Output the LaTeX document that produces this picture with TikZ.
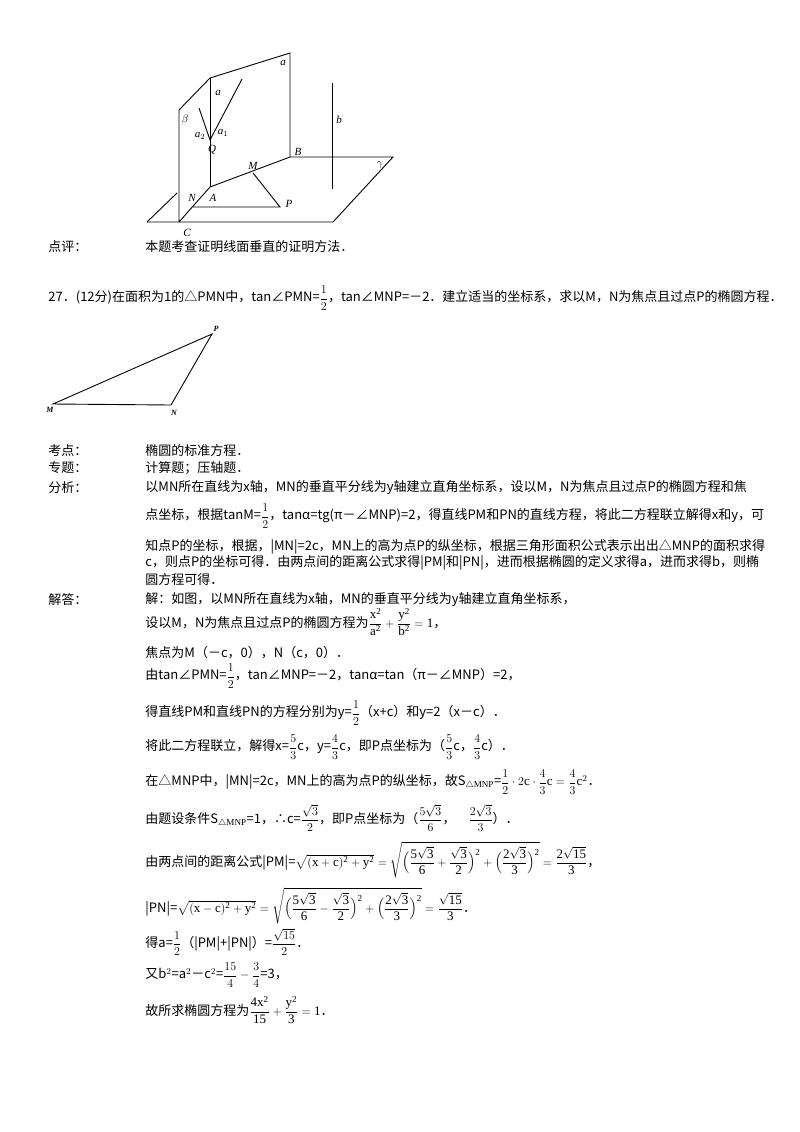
\documentclass[tikz,border=0pt]{standalone}
\usepackage{amsmath}
\usepackage{fontspec}
\setmainfont{Liberation Serif}
\newfontfamily\cjk{Noto Sans CJK SC}
\begin{document}
\begin{tikzpicture}[x=1pt,y=-1pt,line width=0.9pt,
  t/.style={anchor=west,inner sep=0pt,font=\cjk\fontsize{13}{15}\selectfont},
  lab/.style={inner sep=0pt,font=\itshape\fontsize{11}{12}\selectfont}]
\useasboundingbox (0,0) rectangle (800,1132);
% top figure
\coordinate (C) at (179,222); \coordinate (A) at (210,187); \coordinate (B) at (290,157);
\coordinate (N) at (193,207); \coordinate (M) at (253,173); \coordinate (P) at (280,207);
\coordinate (Q) at (210,140); \coordinate (T1) at (179,110); \coordinate (T2) at (210,78);
\coordinate (T3) at (290,53);
\draw (147,222) -- (333,222) -- (393,157) -- (B);
\draw (147,222) -- (177,193);
\draw (C) -- (T1) -- (T2) -- (T3) -- (B) -- (A) -- (C);
\draw (T2) -- (A);
\draw (N) -- (P) -- (M);
\draw (242,79) -- (Q); \draw (199,108) -- (Q);
\draw (332,83) -- (332,189);
\node[lab] at (283,63) {a}; \node[lab] at (218,93) {a}; \node[lab] at (185,120) {$\beta$};
\node[lab] at (200,136) {a$_2$}; \node[lab] at (223,133) {a$_1$}; \node[lab] at (212,150) {Q};
\node[lab] at (253,166) {M}; \node[lab] at (298,152) {B}; \node[lab] at (339,120) {b};
\node[lab] at (380,165) {$\gamma$}; \node[lab] at (192,198) {N}; \node[lab] at (213,198) {A};
\node[lab] at (289,204) {P}; \node[lab] at (187,233) {C};
% triangle
\coordinate (m) at (53,404); \coordinate (n) at (171,405); \coordinate (p) at (212,334);
\draw (m) -- (n) -- (p) -- cycle;
\node[lab,font=\itshape\bfseries\fontsize{8}{9}\selectfont] at (216,329) {P};
\node[lab,font=\itshape\bfseries\fontsize{8}{9}\selectfont] at (50,410) {M};
\node[lab,font=\itshape\bfseries\fontsize{8}{9}\selectfont] at (174,413) {N};
% texts
\node[t] (l0) at (48,247) {点评：};
\node[t] (l0b) at (145,247) {本题考查证明线面垂直的证明方法．};
\node[t] (q) at (48,298) {27．(12分)在面积为1的△PMN中，tan∠PMN=$\dfrac{1}{2}$，tan∠MNP=－2．建立适当的坐标系，求以M，N为焦点且过点P的椭圆方程．};
\node[t] (k1) at (48,451) {考点：}; \node[t] (k1b) at (145,451) {椭圆的标准方程．};
\node[t] (k2) at (48,468) {专题：}; \node[t] (k2b) at (145,468) {计算题；压轴题．};
\node[t] (k3) at (48,488) {分析：};
\node[t] (f1) at (145,488) {以MN所在直线为x轴，MN的垂直平分线为y轴建立直角坐标系，设以M，N为焦点且过点P的椭圆方程和焦};
\node[t] (f2) at (145,516) {点坐标，根据tanM=$\dfrac{1}{2}$，tanα=tg(π－∠MNP)=2，得直线PM和PN的直线方程，将此二方程联立解得x和y，可};
\node[t] (f3) at (145,547) {知点P的坐标，根据，|MN|=2c，MN上的高为点P的纵坐标，根据三角形面积公式表示出出△MNP的面积求得};
\node[t] (f4) at (145,563) {c，则点P的坐标可得．由两点间的距离公式求得|PM|和|PN|，进而根据椭圆的定义求得a，进而求得b，则椭};
\node[t] (f5) at (145,580) {圆方程可得．};
\node[t] (j0) at (48,600) {解答：};
\node[t] (j1) at (145,600) {解：如图，以MN所在直线为x轴，MN的垂直平分线为y轴建立直角坐标系，};
\node[t] (j2) at (145,622) {设以M，N为焦点且过点P的椭圆方程为$\displaystyle\mathrm{\frac{x^2}{a^2}+\frac{y^2}{b^2}=1}$，};
\node[t] (j3) at (145,653) {焦点为M（－c，0），N（c，0）．};
\node[t] (j4) at (145,676) {由tan∠PMN=$\dfrac{1}{2}$，tan∠MNP=－2，tanα=tan（π－∠MNP）=2，};
\node[t] (j5) at (145,713) {得直线PM和直线PN的方程分别为y=$\dfrac{1}{2}$（x+c）和y=2（x－c）．};
\node[t] (j6) at (145,747) {将此二方程联立，解得x=$\dfrac{5}{3}$c，y=$\dfrac{4}{3}$c，即P点坐标为（$\dfrac{5}{3}$c，$\dfrac{4}{3}$c）．};
\node[t] (j7) at (145,782) {在△MNP中，|MN|=2c，MN上的高为点P的纵坐标，故S$_{\triangle\mathrm{MNP}}$=$\dfrac{1}{2}\cdot 2\mathrm{c}\cdot\dfrac{4}{3}\mathrm{c}=\dfrac{4}{3}\mathrm{c}^2$．};
\node[t] (j8) at (145,818) {由题设条件S$_{\triangle\mathrm{MNP}}$=1，∴c=$\dfrac{\sqrt3}{2}$，即P点坐标为（$\dfrac{5\sqrt3}{6}$，\quad$\dfrac{2\sqrt3}{3}$）．};
\node[t] (j9) at (145,860) {由两点间的距离公式|PM|=$\mathrm{\sqrt{(x+c)^2+y^2}=\sqrt{\Bigl(\dfrac{5\sqrt3}{6}+\dfrac{\sqrt3}{2}\Bigr)^2+\Bigl(\dfrac{2\sqrt3}{3}\Bigr)^2}=\dfrac{2\sqrt{15}}{3}}$，};
\node[t] (j10) at (145,906) {|PN|=$\mathrm{\sqrt{(x-c)^2+y^2}=\sqrt{\Bigl(\dfrac{5\sqrt3}{6}-\dfrac{\sqrt3}{2}\Bigr)^2+\Bigl(\dfrac{2\sqrt3}{3}\Bigr)^2}=\dfrac{\sqrt{15}}{3}}$．};
\node[t] (j11) at (145,942) {得a=$\dfrac{1}{2}$（|PM|+|PN|）=$\dfrac{\sqrt{15}}{2}$．};
\node[t] (j12) at (145,975) {又b$^2$=a$^2$－c$^2$=$\dfrac{15}{4}-\dfrac{3}{4}$=3，};
\node[t] (j13) at (145,1010) {故所求椭圆方程为$\displaystyle\mathrm{\frac{4x^2}{15}+\frac{y^2}{3}=1}$．};
\end{tikzpicture}
\end{document}
